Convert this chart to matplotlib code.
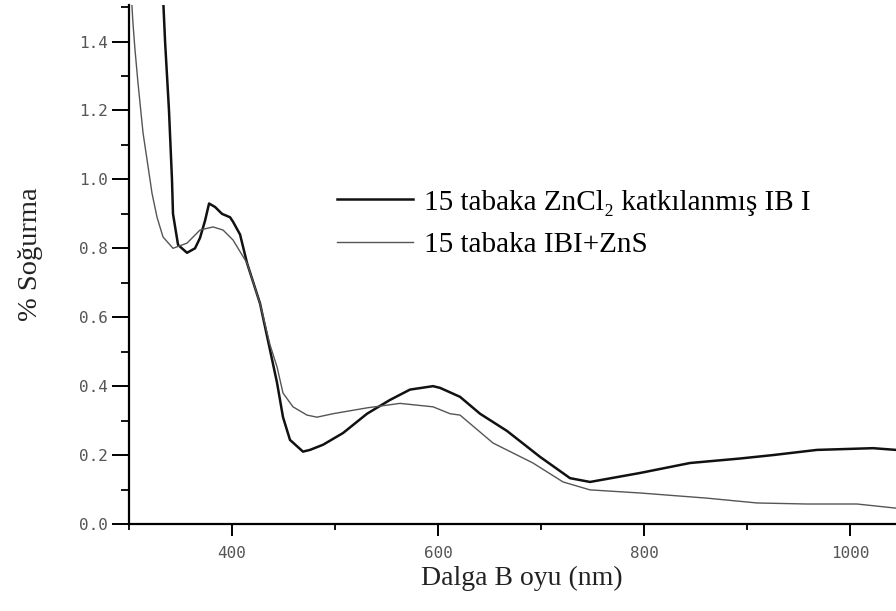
import matplotlib.pyplot as plt
from matplotlib.ticker import MultipleLocator, FixedLocator

# wavelength (nm) and absorbance
wl_zncl = [332, 335.0, 338.8, 341.7, 342.7, 347.6, 356.3, 364.1, 368.9, 373.8,
           377.7, 383.5, 390.3, 398.1, 401.0, 407.8, 414.6, 427.2, 436.9, 443.7,
           449.5, 456.3, 468.9, 475.7, 488.4, 507.8, 531.1, 553.4, 572.8, 595.2,
           602.0, 621.4, 640.8, 667.0, 699.0, 728.2, 747.6, 796.1, 844.7, 893.2,
           925.3, 968.0, 1022.4, 1044.7]
abs_zncl = [1.60, 1.40, 1.20, 1.00, 0.90, 0.81, 0.787, 0.80, 0.83, 0.88,
            0.93, 0.92, 0.90, 0.89, 0.877, 0.84, 0.757, 0.64, 0.505, 0.41,
            0.31, 0.244, 0.21, 0.215, 0.23, 0.264, 0.32, 0.36, 0.39, 0.40,
            0.395, 0.369, 0.32, 0.27, 0.195, 0.133, 0.122, 0.148, 0.177, 0.19,
            0.20, 0.215, 0.22, 0.215]

wl_zns = [301.9, 303.9, 305.8, 308.7, 313.6, 317.5, 322.3, 327.2, 333.0, 342.7,
          356.3, 368.9, 381.6, 391.3, 401.0, 414.6, 427.2, 436.9, 443.7, 449.5,
          459.2, 472.8, 482.5, 498.1, 531.1, 563.1, 595.2, 611.7, 621.4, 653.4,
          692.2, 721.4, 747.6, 796.1, 861.2, 909.7, 958.3, 1006.8, 1044.7]
abs_zns = [1.55, 1.45, 1.376, 1.28, 1.135, 1.057, 0.96, 0.89, 0.833, 0.80,
           0.815, 0.853, 0.862, 0.853, 0.824, 0.757, 0.64, 0.52, 0.456, 0.38,
           0.34, 0.316, 0.31, 0.32, 0.337, 0.35, 0.34, 0.32, 0.316, 0.235,
           0.177, 0.122, 0.099, 0.09, 0.075, 0.061, 0.058, 0.058, 0.046]

labels = ["15 tabaka ZnCl\u2082 katkılanmış IB I", "15 tabaka IBI+ZnS"]
yticks = [0.0, 0.2, 0.4, 0.6, 0.8, 1.0, 1.2, 1.4]
xticks = [400, 600, 800, 1000]

serif = "Liberation Serif"
mono = "DejaVu Sans Mono"

fig = plt.figure(figsize=(8.96, 6.11), dpi=100)
ax = fig.add_axes([0.144, 0.1424, 0.856, 0.8494])

ax.plot(wl_zncl, abs_zncl, color="#111111", lw=1.8, label=labels[0])
ax.plot(wl_zns, abs_zns, color="#555555", lw=1.0, label=labels[1])

ax.set_xlim(300, 1044.7)
ax.set_ylim(0, 1.506)

ax.spines["top"].set_visible(False)
ax.spines["right"].set_visible(False)
ax.spines["left"].set_linewidth(1.6)
ax.spines["bottom"].set_linewidth(1.6)

ax.xaxis.set_major_locator(FixedLocator(xticks))
ax.xaxis.set_minor_locator(MultipleLocator(100))
ax.yaxis.set_major_locator(FixedLocator(yticks))
ax.yaxis.set_minor_locator(MultipleLocator(0.1))
ax.set_yticklabels([f"{v:.1f}" for v in yticks])
ax.set_xticklabels([str(v) for v in xticks])
ax.tick_params(axis="y", which="major", length=12, width=1.4, pad=3)
ax.tick_params(axis="y", which="minor", length=6, width=1.3)
ax.tick_params(axis="x", which="major", length=8.5, width=1.4, pad=7)
ax.tick_params(axis="x", which="minor", length=4, width=1.3)
ax.tick_params(which="major", labelsize=11.5, labelcolor="#555555")
for lab in ax.get_xticklabels() + ax.get_yticklabels():
    lab.set_family(mono)

ax.set_xlabel("Dalga B oyu (nm)", family=serif, fontsize=20, color="#222222")
ax.xaxis.set_label_coords(0.512, -0.080)
ax.set_ylabel("% Soğurma", family=serif, fontsize=20.5, color="#222222")
ax.yaxis.set_label_coords(-0.112, 0.52)

ax.legend(loc="upper left", bbox_to_anchor=(0.271, 0.645), frameon=False,
          borderpad=0, borderaxespad=0,
          handlelength=2.6, handletextpad=0.4, labelspacing=0.55,
          prop={"family": serif, "size": 21})

fig.savefig("out.png", dpi=100)
